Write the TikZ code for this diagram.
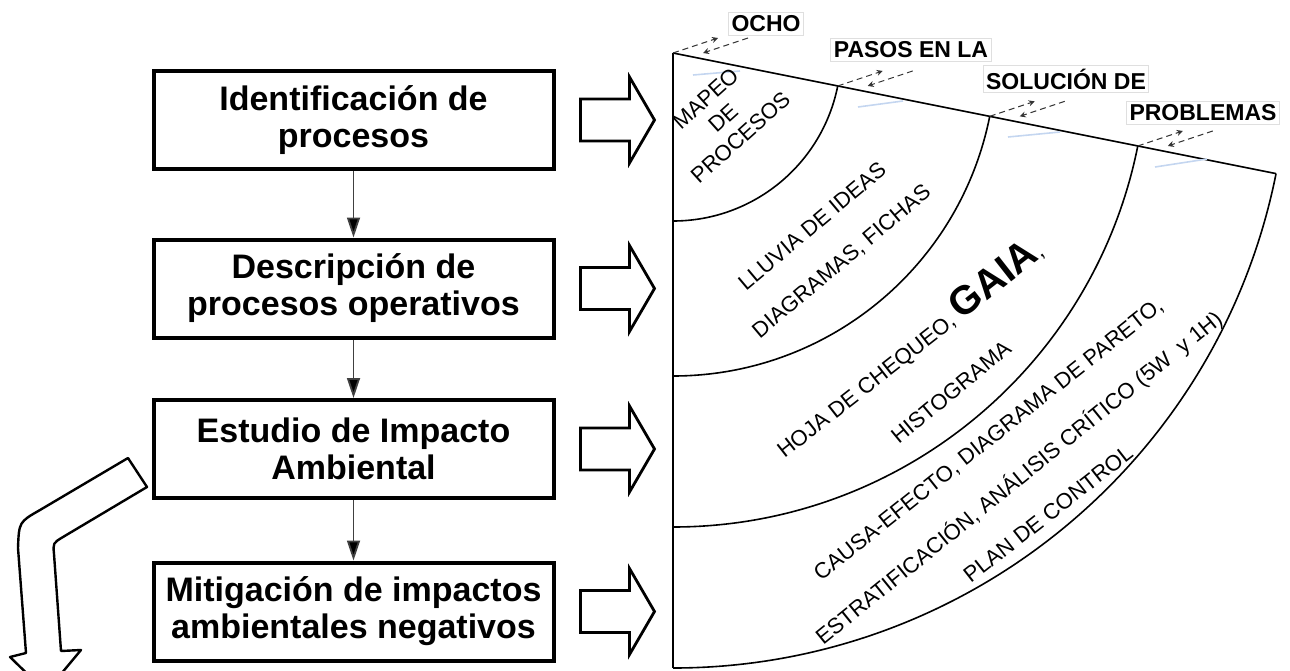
\documentclass[tikz,border=0pt]{standalone}
\usepackage{fontspec}
\setmainfont{Liberation Sans}
\usetikzlibrary{arrows.meta,calc}
\definecolor{azulclaro}{RGB}{196,214,240}

\begin{document}
\begin{tikzpicture}[x=0.5pt,y=-0.5pt,
    caja/.style={draw, line width=2pt, minimum width=200pt, minimum height=49pt, inner sep=0pt, align=center, font=\fontsize{17}{18.5}\selectfont\bfseries},
    flecha/.style={draw=black!75, line width=0.9pt, -{Triangle[length=10pt,width=6.5pt,fill=black]}},
    flechagrande/.style={draw, line width=1.4pt, fill=white, line join=miter},
    curva/.style={draw, line width=1.2pt, fill=white, line join=round},
    linea/.style={line width=0.8pt},
    titulo/.style={draw=gray!25, line width=0.5pt, inner sep=1.5pt, font=\fontsize{11.5}{13}\selectfont\bfseries},
    anillo/.style={inner sep=0pt, align=center, font=\fontsize{11}{13}\selectfont},
    guia/.style={densely dashed, line width=0.5pt, draw=black!80, -{Stealth[length=3pt,width=3pt]}},
    marca/.style={draw=azulclaro, line width=0.8pt}]
  \useasboundingbox (0,0) rectangle (1290,670);
  \clip (0,0) rectangle (1290,670);

  % pasos del proceso
  \node[caja] (b1) at (353.5,120) {Identificación de\\procesos};
  \node[caja] (b2) at (353.5,288.5) {Descripción de\\procesos operativos};
  \node[caja] (b3) at (353.5,449) {Estudio de Impacto\\Ambiental};
  \node[caja] (b4) at (353.5,611.5) {Mitigación de impactos\\ambientales negativos};
  \draw[flecha] (b1) -- (b2);
  \draw[flecha] (b2) -- (b3);
  \draw[flecha] (b3) -- (b4);

  % flechas hacia el abanico
  \foreach \b in {b1,b2,b3,b4}
    \draw[flechagrande] ($(\b.east)+(25,-21)$) -- ++(49,0) -- ++(0,-22) -- ++(25,43)
      -- ++(-25,43) -- ++(0,-22) -- ++(-49,0) -- cycle;

  % flecha curva de salida
  \draw[curva] (128,458) -- (40,510) .. controls (19,522) .. (18,548) -- (26,653)
    -- (10,657) -- (46,692) -- (81,650) -- (61,651) -- (54,554)
    .. controls (53,543) .. (63,537) -- (147,487) -- cycle;

  % abanico
  \coordinate (c) at (673,53);
  \draw[linea] (c) -- ++(90:615);
  \draw[linea] (c) -- ++(11.31:615);
  \foreach \r in {168,323,474,615}
    \draw[linea] (c) ++(11.31:\r) arc[start angle=11.31, end angle=90, radius=\r];
  \foreach \r in {0,168,323,474} {
    \coordinate (p) at ($(c)+(11.31:\r)$);
    \draw[guia] (p) -- ++(45,-15);
    \draw[guia] ($(p)+(75,-15)$) -- ++(-45,15);
  }
  \draw[marca] (693,75) -- (740,71);
  \draw[marca] (858,107) -- (903,101);
  \draw[marca] (1008,137) -- (1060,132);
  \draw[marca] (1155,167) -- (1207,159);

  % titulo
  \node[titulo] (t1) at (766,24) {OCHO};
  \node[titulo] (t2) at (911,50) {PASOS EN LA};
  \node[titulo] (t3) at (1066,79) {SOLUCIÓN DE};
  \node[titulo] (t4) at (1203,113) {PROBLEMAS};

  % herramientas
  \node[anillo, rotate=42] (r1) at (723,118) {MAPEO\\DE\\PROCESOS};
  \node[anillo, rotate=40] (r2a) at (812,226) {LLUVIA DE IDEAS};
  \node[anillo, rotate=40] (r2b) at (842,262) {DIAGRAMAS, FICHAS};
  \node[anillo, rotate=38, anchor=base] (r3a) at (915,357)
    {HOJA DE CHEQUEO, {\fontsize{20}{22}\selectfont\bfseries GAIA},};
  \node[anillo, rotate=39.5] (r3b) at (951,392) {HISTOGRAMA};
  \node[anillo, rotate=38.5] (r4a) at (989,440) {CAUSA-EFECTO, DIAGRAMA DE PARETO,};
  \node[anillo, rotate=39] (r4b) at (1019,478) {ESTRATIFICACIÓN, ANÁLISIS CRÍTICO (5W\ \ y 1H)};
  \node[anillo, rotate=38] (r4c) at (1048,514) {PLAN DE CONTROL};
\end{tikzpicture}
\end{document}
